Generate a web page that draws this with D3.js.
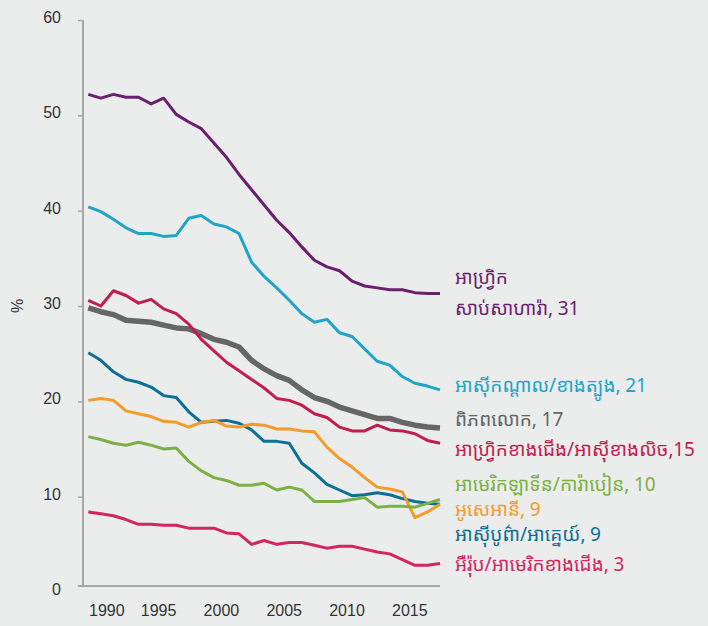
<!DOCTYPE html>
<head>
  <meta charset="utf-8">
  <script src="https://d3js.org/d3.v7.min.js"></script>
  <style>
    body { margin:0; background:#ebeded; }
    .chart text { font-family: "Liberation Sans", Arial, sans-serif; }
    .axis text { font-size:16px; fill:#333; }
    .series-label { font-family: "Noto Sans Khmer", "Khmer OS System", "Noto Sans", sans-serif !important; font-size:19px; }
  </style>
</head>

<body>
  <div class="chart"></div>
  <script>

  // years on the x axis
  const years = [1990, 1991, 1992, 1993, 1994, 1995, 1996, 1997, 1998, 1999,
    2000, 2001, 2002, 2003, 2004, 2005, 2006, 2007, 2008, 2009,
    2010, 2011, 2012, 2013, 2014, 2015, 2016, 2017, 2018];

  const xTickYears = [1990, 1995, 2000, 2005, 2010, 2015];
  const yTicks = [0, 10, 20, 30, 40, 50, 60];

  // values per region (%)
  const world = [29.8, 29.4, 29.1, 28.5, 28.4, 28.3, 28.0, 27.7, 27.6, 27.1,
    26.5, 26.2, 25.7, 24.3, 23.4, 22.7, 22.2, 21.2, 20.4, 20.0,
    19.4, 19.0, 18.6, 18.2, 18.2, 17.8, 17.5, 17.3, 17.2];
  const subSaharanAfrica = [52.2, 51.8, 52.2, 51.9, 51.9, 51.2, 51.8, 50.1, 49.3, 48.6,
    47.1, 45.6, 43.8, 42.2, 40.6, 39.0, 37.7, 36.2, 34.8, 34.1,
    33.7, 32.6, 32.1, 31.9, 31.7, 31.7, 31.4, 31.3, 31.3];
  const centralSouthernAsia = [40.4, 39.9, 39.1, 38.2, 37.6, 37.6, 37.3, 37.4, 39.2, 39.5,
    38.6, 38.3, 37.6, 34.6, 33.1, 31.9, 30.6, 29.2, 28.3, 28.6,
    27.2, 26.8, 25.5, 24.2, 23.8, 22.6, 21.9, 21.6, 21.2];
  const northernAfricaWesternAsia = [30.6, 30.0, 31.6, 31.1, 30.3, 30.7, 29.7, 29.2, 28.1, 26.5,
    25.3, 24.1, 23.2, 22.3, 21.4, 20.3, 20.1, 19.6, 18.7, 18.3,
    17.3, 16.9, 16.9, 17.5, 17.0, 16.9, 16.6, 15.9, 15.6];
  const easternSouthEasternAsia = [25.1, 24.3, 23.1, 22.3, 22.0, 21.5, 20.6, 20.4, 18.9, 17.8,
    17.9, 18.0, 17.7, 17.0, 15.8, 15.8, 15.6, 13.5, 12.5, 11.3,
    10.7, 10.1, 10.2, 10.4, 10.2, 9.8, 9.5, 9.3, 9.2];
  const oceania = [20.1, 20.3, 20.1, 19.0, 18.7, 18.4, 17.9, 17.8, 17.3, 17.8,
    18.0, 17.4, 17.3, 17.6, 17.5, 17.1, 17.1, 16.9, 16.8, 15.2,
    14.0, 13.1, 12.0, 11.0, 10.8, 10.5, 7.8, 8.4, 9.2];
  const latinAmericaCaribbean = [16.3, 16.0, 15.6, 15.4, 15.7, 15.4, 15.0, 15.1, 13.7, 12.7,
    12.0, 11.7, 11.2, 11.2, 11.4, 10.7, 11.0, 10.7, 9.5, 9.5,
    9.5, 9.7, 9.9, 8.9, 9.0, 9.0, 8.9, 9.3, 9.7];
  const europeNorthernAmerica = [8.4, 8.2, 8.0, 7.6, 7.1, 7.1, 7.0, 7.0, 6.7, 6.7,
    6.7, 6.2, 6.1, 5.0, 5.4, 5.0, 5.2, 5.2, 4.9, 4.6,
    4.8, 4.8, 4.5, 4.2, 4.0, 3.4, 2.8, 2.8, 3.0];

  const seriesLabels = [
    ['ពិភពលោក, 17'],
    ['អាហ្វ្រិក', 'សាប់សាហារ៉ា, 31'],
    ['អាស៊ីកណ្ដាល/ខាងត្បូង, 21'],
    ['អាហ្វ្រិកខាងជើង/អាស៊ីខាងលិច,15'],
    ['អាស៊ីបូព៌ា/អាគ្នេយ៍, 9'],
    ['អូសេអានី, 9'],
    ['អាមេរិកឡាទីន/ការ៉ាបៀន, 10'],
    ['អឺរ៉ុប/អាមេរិកខាងជើង, 3']
  ];

  const series = [world, subSaharanAfrica, centralSouthernAsia, northernAfricaWesternAsia,
    easternSouthEasternAsia, oceania, latinAmericaCaribbean, europeNorthernAmerica];

  const colors = ['#666666', '#6b1f6f', '#22a4c8', '#c21d4c', '#0c6f95', '#f39b2b', '#7bb144', '#d3265f'];
  const widths = [5.5, 3, 3, 3, 3, 3, 3, 3];
  // nudges so the end labels do not collide
  const labelNudge = [-8, 0, -4, 7, 31, 6, -15, 2];

  const width = 708, height = 626;
  const plot = { left: 88, right: 440, top: 20, bottom: 592, baseline: 586, axisX: 83 };

  const svg = d3.select('.chart')
    .append('svg')
      .attr('width', width)
      .attr('height', height);

  const x = d3.scaleLinear()
    .domain([years[0], years[years.length - 1]])
    .range([plot.left + 0.3, plot.right]);

  const y = d3.scaleLinear()
    .domain([0, 60])
    .range([plot.bottom, plot.top]);

  // y axis
  const yAxis = svg.append('g')
    .attr('class', 'axis')
    .attr('transform', `translate(${plot.axisX},0)`)
    .call(d3.axisLeft(y).tickValues(yTicks).tickSize(5).tickPadding(17));
  yAxis.select('.domain').remove();
  yAxis.selectAll('.tick line').attr('stroke', '#a8a8a8').attr('stroke-width', 1.5);
  yAxis.selectAll('.tick').filter(d => d === 0).select('line').remove();
  yAxis.selectAll('.tick text').attr('dy', '0.15em');

  svg.append('line')
    .attr('x1', plot.axisX).attr('x2', plot.axisX)
    .attr('y1', y(60)).attr('y2', plot.baseline)
    .attr('stroke', '#a8a8a8').attr('stroke-width', 2);

  // x axis
  svg.append('line')
    .attr('x1', plot.axisX - 5).attr('x2', plot.right)
    .attr('y1', plot.baseline).attr('y2', plot.baseline)
    .attr('stroke', '#a8a8a8').attr('stroke-width', 2);

  const xAxis = svg.append('g')
    .attr('class', 'axis')
    .attr('transform', `translate(0,${plot.baseline})`)
    .call(d3.axisBottom(x).tickValues(xTickYears).tickFormat(d3.format('d')).tickSize(0).tickPadding(19));
  xAxis.select('.domain').remove();
  xAxis.selectAll('.tick text').attr('dx', d => d === 1990 ? 18 : 7);

  svg.append('text')
    .attr('transform', `translate(17,${y(30)}) rotate(-90)`)
    .attr('text-anchor', 'middle')
    .attr('dy', '0.35em')
    .style('font-size', '16px')
    .style('fill', '#333')
    .text('%');

  const line = d3.line()
    .x((d, i) => x(years[i]))
    .y(d => y(d));

  svg.selectAll('.series')
    .data(series)
    .enter()
    .append('path')
      .attr('class', 'series')
      .attr('d', d => line(d))
      .style('fill', 'none')
      .style('stroke', (d, i) => colors[i])
      .style('stroke-width', (d, i) => widths[i])
      .style('stroke-linejoin', 'round');

  // end labels
  const labels = svg.selectAll('.series-label')
    .data(series)
    .enter()
    .append('text')
      .attr('class', 'series-label')
      .attr('x', 455)
      .attr('y', (d, i) => y(d[d.length - 1]) + labelNudge[i])
      .style('fill', (d, i) => colors[i]);

  labels.each(function(d, i) {
    const lines = seriesLabels[i];
    d3.select(this).selectAll('tspan')
      .data(lines)
      .enter()
      .append('tspan')
        .attr('x', 455)
        .attr('dy', (t, j) => j === 0 ? (0.32 - (lines.length - 1) * 0.82) + 'em' : '1.64em')
        .text(t => t);
  });

  </script>
</body>
